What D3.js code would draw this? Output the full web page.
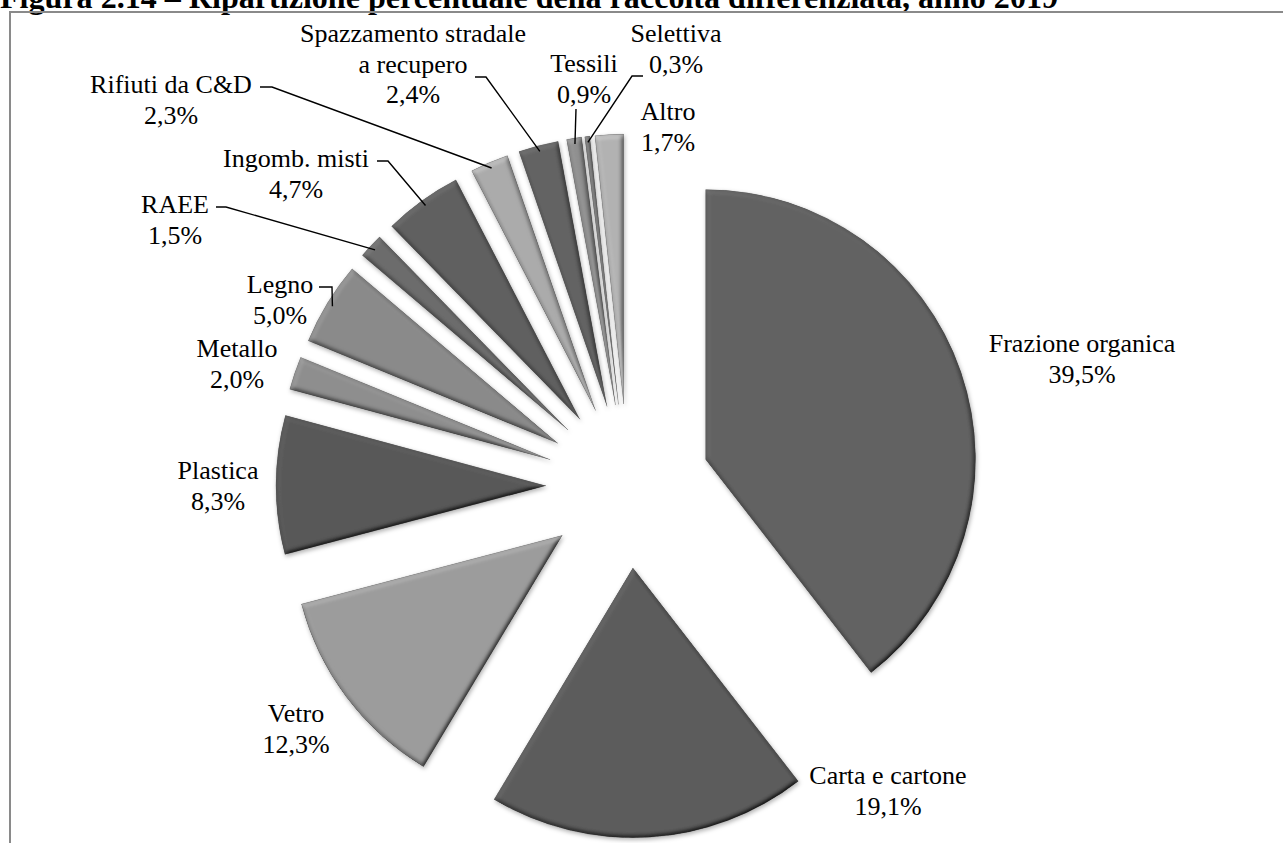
<!DOCTYPE html>
<html>
<head>
<meta charset="utf-8">
<script src="https://cdn.jsdelivr.net/npm/d3@7"></script>
<style>
  html, body { margin: 0; padding: 0; background: #fff; overflow: hidden; }
  svg { display: block; }
</style>
</head>
<body>
<svg id="chart" width="1283" height="843"></svg>
<script>
// Raccolta differenziata 2019: share of each fraction (%)
const categories = [
  "Frazione organica", "Carta e cartone", "Vetro", "Plastica", "Metallo", "Legno",
  "RAEE", "Ingomb. misti", "Rifiuti da C&D", "Spazzamento stradale a recupero",
  "Tessili", "Selettiva", "Altro"
];
const values = [39.5, 19.1, 12.3, 8.3, 2.0, 5.0, 1.5, 4.7, 2.3, 2.4, 0.9, 0.3, 1.7];
// label text lines (name split where it wraps)
const labelNames = [
  ["Frazione organica"], ["Carta e cartone"], ["Vetro"], ["Plastica"], ["Metallo"], ["Legno"],
  ["RAEE"], ["Ingomb. misti"], ["Rifiuti da C&D"], ["Spazzamento stradale", "a recupero"],
  ["Tessili"], ["Selettiva"], ["Altro"]
];
const titleText = "Figura 2.14 – Ripartizione percentuale della raccolta differenziata, anno 2019";

// grey fill per slice
const sliceGrays = ["#626262", "#5c5c5c", "#9c9c9c", "#585858", "#8e8e8e", "#8a8a8a",
                    "#6c6c6c", "#606060", "#ababab", "#636363", "#909090", "#7c7c7c", "#b2b2b2"];

// label placement: centre x, baseline of first line; optional leader (start, elbow)
const labelLayout = [
  { x: 1082, y: 352 },
  { x: 888,  y: 784 },
  { x: 296,  y: 722 },
  { x: 218,  y: 479 },
  { x: 237,  y: 357 },
  { x: 280,  y: 293, leader: [[319, 287], [332, 287]] },
  { x: 175,  y: 213, leader: [[216, 207], [226, 207]] },
  { x: 296,  y: 167, leader: [[377, 161], [388, 161]] },
  { x: 171,  y: 93,  leader: [[260, 87], [272, 87]] },
  { x: 413,  y: 42,  leader: [[475, 77], [486, 77]] },
  { x: 584,  y: 72,  leader: [[576, 109], [576, 109]] },
  { x: 676,  y: 42,  leader: [[643, 76], [632, 76]] },
  { x: 668,  y: 120 }
];

const FONT = "'Liberation Serif', 'Times New Roman', Times, serif";
const fmt = v => d3.format(".1f")(v).replace(".", ",") + "%";

const svg = d3.select("#chart");

// slice bevel + soft shadow
const defs = svg.append("defs");
const f = defs.append("filter").attr("id", "bevel")
  .attr("x", "-20%").attr("y", "-20%").attr("width", "140%").attr("height", "140%");
f.append("feGaussianBlur").attr("in", "SourceAlpha").attr("stdDeviation", 2.5).attr("result", "b");
const dl = f.append("feDiffuseLighting").attr("in", "b").attr("surfaceScale", 4)
  .attr("diffuseConstant", 1).attr("lighting-color", "#fff").attr("result", "light");
dl.append("feDistantLight").attr("azimuth", 235).attr("elevation", 55);
f.append("feComposite").attr("in", "SourceGraphic").attr("in2", "light")
  .attr("operator", "arithmetic").attr("k1", 1.22).attr("k2", 0).attr("k3", 0).attr("k4", 0)
  .attr("result", "lit");
f.append("feComposite").attr("in", "lit").attr("in2", "SourceAlpha").attr("operator", "in").attr("result", "litIn");
f.append("feGaussianBlur").attr("in", "SourceAlpha").attr("stdDeviation", 2).attr("result", "sb");
f.append("feOffset").attr("in", "sb").attr("dx", 1).attr("dy", 1.5).attr("result", "so");
f.append("feFlood").attr("flood-color", "#000").attr("flood-opacity", 0.3).attr("result", "fc");
f.append("feComposite").attr("in", "fc").attr("in2", "so").attr("operator", "in").attr("result", "shadow");
const m = f.append("feMerge");
m.append("feMergeNode").attr("in", "shadow");
m.append("feMergeNode").attr("in", "litIn");

// title (clipped at the top of the page)
svg.append("text")
  .attr("x", 0).attr("y", 8)
  .attr("font-family", FONT)
  .attr("font-size", 31).attr("font-weight", "bold")
  .attr("textLength", 1058).attr("lengthAdjust", "spacingAndGlyphs")
  .text(titleText);

// frame
svg.append("path")
  .attr("d", "M10,843 V12 H1283")
  .attr("fill", "none").attr("stroke", "#8a8a8a").attr("stroke-width", 2);

// pie
const cx = 628, cy = 486, radius = 270, explode = 82;
const pie = d3.pie().sort(null).value(d => d).startAngle(0).endAngle(2 * Math.PI);
const arcs = pie(values);
const arc = d3.arc().innerRadius(0).outerRadius(radius);

const dirOf = d => {
  const a = (d.startAngle + d.endAngle) / 2;
  return [Math.sin(a), -Math.cos(a)];
};

const g = svg.append("g").attr("transform", `translate(${cx},${cy})`);
g.selectAll("path.slice")
  .data(arcs)
  .join("path")
  .attr("class", "slice")
  .attr("transform", d => {
    const [dx, dy] = dirOf(d);
    return `translate(${dx * explode},${dy * explode})`;
  })
  .attr("d", arc)
  .attr("fill", (d, i) => sliceGrays[i])
  .attr("stroke", "#4a4a4a")
  .attr("stroke-opacity", 0.5)
  .attr("stroke-width", 0.8)
  .attr("filter", "url(#bevel)");

// leader lines to the outer edge of the slice
arcs.forEach((d, i) => {
  const L = labelLayout[i];
  if (!L.leader) return;
  const [dx, dy] = dirOf(d);
  const ex = cx + dx * (explode + radius - 6);
  const ey = cy + dy * (explode + radius - 6);
  const pts = [...L.leader, [ex, ey]];
  svg.append("path")
    .attr("d", d3.line()(pts))
    .attr("fill", "none").attr("stroke", "#000").attr("stroke-width", 1.4);
});

// labels: name lines + value
arcs.forEach((d, i) => {
  const L = labelLayout[i];
  const lines = [...labelNames[i], fmt(values[i])];
  const t = svg.append("text")
    .attr("text-anchor", "middle")
    .attr("font-family", FONT)
    .attr("font-size", 26)
    .attr("fill", "#000");
  lines.forEach((s, k) => {
    t.append("tspan").attr("x", L.x).attr("y", L.y + k * 30.5).text(s);
  });
});
</script>
</body>
</html>
